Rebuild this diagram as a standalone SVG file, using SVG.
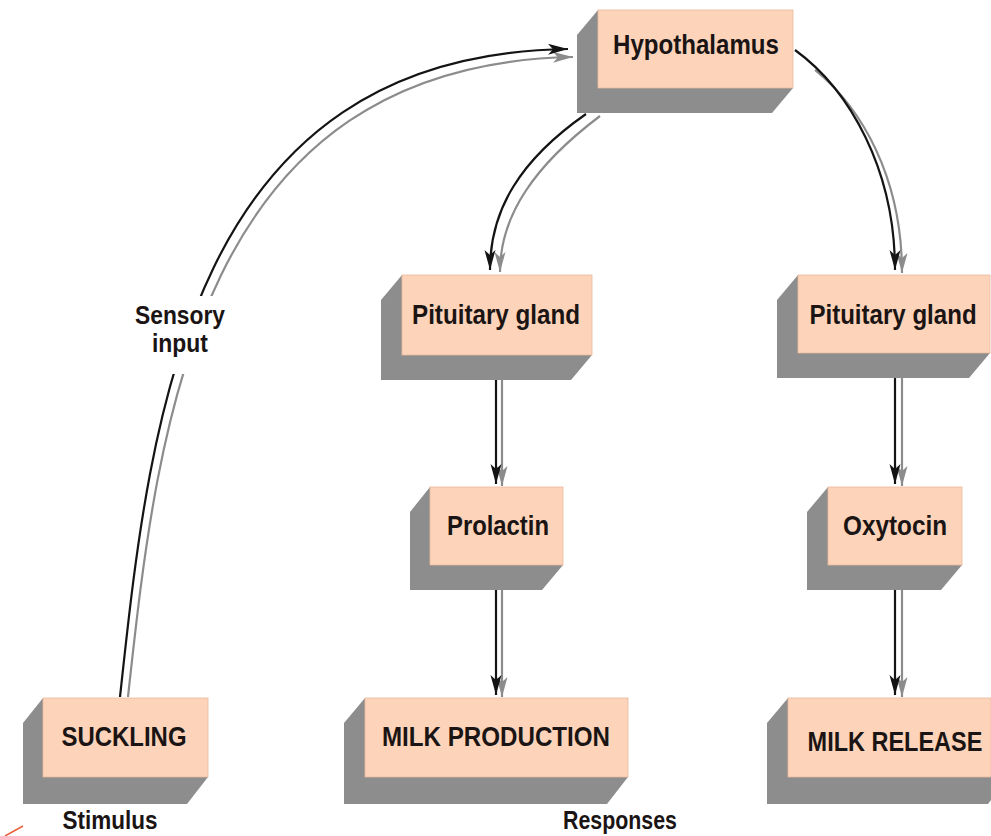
<svg xmlns="http://www.w3.org/2000/svg" width="991" height="836" viewBox="0 0 991 836">
<style>
.side{fill:#8d8d8d}
.face{fill:#fdd4b9;stroke:#e9b89c;stroke-width:0.8}
.lbl{font-family:"Liberation Sans",Arial,sans-serif;font-weight:bold;fill:#1b1414;text-anchor:middle}
.big{font-size:28px}
.cap{font-size:27px}
.note{font-size:25px}
.blk{fill:none;stroke:#141414;stroke-width:2.2}
.gry{fill:none;stroke:#8c8c8c;stroke-width:2.2}
</style>
<defs>
<marker id="ab" markerWidth="20" markerHeight="12" refX="20" refY="5.5" orient="auto" markerUnits="userSpaceOnUse"><path d="M0,0 L20,5.5 L0,11 L5,5.5 Z" fill="#141414"/></marker>
<marker id="ag" markerWidth="20" markerHeight="12" refX="20" refY="5.5" orient="auto" markerUnits="userSpaceOnUse"><path d="M0,0 L20,5.5 L0,11 L5,5.5 Z" fill="#8c8c8c"/></marker>
<mask id="gap" maskUnits="userSpaceOnUse" x="0" y="0" width="991" height="836">
<rect x="0" y="0" width="991" height="836" fill="#fff"/>
<rect x="128" y="296" width="104" height="78" fill="#000"/>
</mask>
</defs>
<rect width="991" height="836" fill="#fff"/>

<g id="connectors">
<g mask="url(#gap)">
<path class="gry" d="M128,697 C158,422 196,64 573,57" marker-end="url(#ag)"/>
<path class="blk" d="M120,697 C150,420 186,54 568,49" marker-end="url(#ab)"/>
</g>
<path class="gry" d="M600,116 C535,165 500,215 500,272" marker-end="url(#ag)"/>
<path class="blk" d="M586,114 C520,160 490,210 490,270" marker-end="url(#ab)"/>
<path class="gry" d="M815,70 C862,108 902,178 902,273" marker-end="url(#ag)"/>
<path class="blk" d="M795,50 C850,90 895,170 895,270" marker-end="url(#ab)"/>
<path class="gry" d="M502,380 L502,486" marker-end="url(#ag)"/>
<path class="blk" d="M496,380 L496,484" marker-end="url(#ab)"/>
<path class="gry" d="M502,590 L502,697" marker-end="url(#ag)"/>
<path class="blk" d="M496,590 L496,695" marker-end="url(#ab)"/>
<path class="gry" d="M902,378 L902,486" marker-end="url(#ag)"/>
<path class="blk" d="M895,378 L895,484" marker-end="url(#ab)"/>
<path class="gry" d="M902,590 L902,697" marker-end="url(#ag)"/>
<path class="blk" d="M895,590 L895,695" marker-end="url(#ab)"/>
</g>

<g id="hypothalamus">
<polygon class="side" points="598,10 577,35 577,113 772,113 793,88"/>
<rect class="face" x="598" y="10" width="195" height="78"/>
<text class="lbl big" x="696" y="54" textLength="166" lengthAdjust="spacingAndGlyphs">Hypothalamus</text>
</g>

<g id="pituitary-left">
<polygon class="side" points="402,275 381,300 381,380 571,380 592,355"/>
<rect class="face" x="402" y="275" width="190" height="80"/>
<text class="lbl big" x="496" y="324" textLength="168" lengthAdjust="spacingAndGlyphs">Pituitary gland</text>
</g>

<g id="pituitary-right">
<polygon class="side" points="798,275 777,300 777,378 969,378 990,353"/>
<rect class="face" x="798" y="275" width="192" height="78"/>
<text class="lbl big" transform="translate(893,324) scale(0.86,1)" x="0" y="0">Pituitary gland</text>
</g>

<g id="prolactin">
<polygon class="side" points="430,487 410,512 410,590 542,590 563,565"/>
<rect class="face" x="430" y="487" width="133" height="78"/>
<text class="lbl big" x="498" y="535" textLength="102" lengthAdjust="spacingAndGlyphs">Prolactin</text>
</g>

<g id="oxytocin">
<polygon class="side" points="828,487 807,512 807,590 941,590 962,565"/>
<rect class="face" x="828" y="487" width="134" height="78"/>
<text class="lbl big" x="895" y="535" textLength="104" lengthAdjust="spacingAndGlyphs">Oxytocin</text>
</g>

<g id="suckling">
<polygon class="side" points="43,698 23,723 23,804 187,804 208,777"/>
<rect class="face" x="43" y="698" width="165" height="79"/>
<text class="lbl cap" x="124" y="746" textLength="125" lengthAdjust="spacingAndGlyphs">SUCKLING</text>
</g>

<g id="milk-production">
<polygon class="side" points="365,698 344,723 344,804 607,804 628,777"/>
<rect class="face" x="365" y="698" width="263" height="79"/>
<text class="lbl cap" x="496" y="746" textLength="228" lengthAdjust="spacingAndGlyphs">MILK PRODUCTION</text>
</g>

<g id="milk-release">
<polygon class="side" points="788,698 767,723 767,804 988,804 991,800 991,777"/>
<rect class="face" x="788" y="698" width="203" height="79"/>
<text class="lbl cap" transform="translate(895,751) scale(0.87,1)" x="0" y="0">MILK RELEASE</text>
</g>

<g id="labels">
<text class="lbl note" x="180" y="324" textLength="90" lengthAdjust="spacingAndGlyphs">Sensory</text>
<text class="lbl note" x="180" y="352" textLength="56" lengthAdjust="spacingAndGlyphs">input</text>
<text class="lbl note" x="110" y="829" textLength="95" lengthAdjust="spacingAndGlyphs">Stimulus</text>
<text class="lbl note" x="620" y="829" textLength="114" lengthAdjust="spacingAndGlyphs">Responses</text>
</g>

<line x1="23" y1="826" x2="5" y2="836" stroke="#e8603c" stroke-width="1.5"/>
</svg>
